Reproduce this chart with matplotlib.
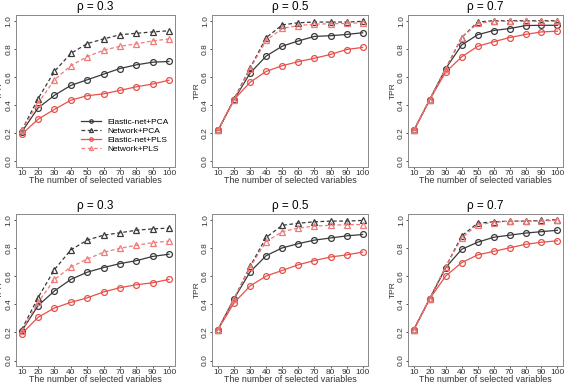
import numpy as np
import matplotlib
matplotlib.use("Agg")
import matplotlib.pyplot as plt

plt.rcParams['font.family'] = ['Liberation Sans', 'DejaVu Sans']

n_vars = [10, 20, 30, 40, 50, 60, 70, 80, 90, 100]
titles = ["\u03c1 = 0.3", "\u03c1 = 0.5", "\u03c1 = 0.7"]
labels = ["Elastic-net+PCA", "Network+PCA", "Elastic-net+PLS", "Network+PLS"]

# top row
top_en_pca = [
    [0.21, 0.38, 0.47, 0.54, 0.58, 0.62, 0.66, 0.686, 0.705, 0.71],
    [0.22, 0.44, 0.628, 0.749, 0.819, 0.856, 0.888, 0.893, 0.902, 0.914],
    [0.22, 0.44, 0.66, 0.827, 0.90, 0.93, 0.944, 0.965, 0.967, 0.967],
]
top_net_pca = [
    [0.22, 0.446, 0.64, 0.767, 0.837, 0.87, 0.90, 0.91, 0.92, 0.928],
    [0.22, 0.445, 0.665, 0.88, 0.97, 0.985, 0.99, 0.99, 0.99, 0.995],
    [0.22, 0.44, 0.66, 0.88, 0.99, 1.0, 1.0, 1.0, 1.0, 1.0],
]
top_en_pls = [
    [0.193, 0.30, 0.37, 0.435, 0.467, 0.48, 0.505, 0.53, 0.55, 0.577],
    [0.22, 0.44, 0.563, 0.64, 0.68, 0.709, 0.733, 0.76, 0.795, 0.81],
    [0.22, 0.44, 0.635, 0.743, 0.818, 0.85, 0.88, 0.902, 0.92, 0.925],
]
top_net_pls = [
    [0.22, 0.414, 0.58, 0.68, 0.744, 0.79, 0.818, 0.835, 0.856, 0.87],
    [0.22, 0.44, 0.66, 0.86, 0.945, 0.965, 0.975, 0.978, 0.98, 0.985],
    [0.22, 0.44, 0.66, 0.88, 0.98, 0.995, 0.995, 0.995, 0.995, 0.995],
]

# bottom row
bot_en_pca = [
    [0.21, 0.39, 0.494, 0.576, 0.627, 0.66, 0.688, 0.709, 0.739, 0.755],
    [0.22, 0.44, 0.63, 0.745, 0.80, 0.83, 0.855, 0.87, 0.885, 0.895],
    [0.22, 0.44, 0.66, 0.79, 0.84, 0.875, 0.89, 0.905, 0.915, 0.925],
]
bot_net_pca = [
    [0.22, 0.447, 0.646, 0.785, 0.855, 0.89, 0.907, 0.925, 0.935, 0.94],
    [0.22, 0.44, 0.67, 0.875, 0.96, 0.975, 0.985, 0.99, 0.99, 0.995],
    [0.22, 0.44, 0.665, 0.885, 0.975, 0.985, 0.99, 0.99, 0.995, 1.0],
]
bot_en_pls = [
    [0.19, 0.307, 0.373, 0.413, 0.445, 0.487, 0.517, 0.538, 0.552, 0.576],
    [0.22, 0.41, 0.53, 0.60, 0.64, 0.68, 0.71, 0.735, 0.75, 0.77],
    [0.22, 0.44, 0.60, 0.695, 0.75, 0.775, 0.80, 0.825, 0.84, 0.85],
]
bot_net_pls = [
    [0.21, 0.413, 0.576, 0.664, 0.72, 0.769, 0.797, 0.818, 0.837, 0.848],
    [0.22, 0.44, 0.665, 0.845, 0.915, 0.94, 0.955, 0.96, 0.965, 0.965],
    [0.22, 0.44, 0.665, 0.87, 0.965, 0.98, 0.99, 0.99, 0.99, 0.995],
]

black = "#3a3a3a"
red = "#e8504a"
pink = "#f07a78"
styles = [
    dict(color=black, ls="-", marker="o", ms=4.2),
    dict(color=black, ls="--", marker="^", ms=4.8),
    dict(color=red, ls="-", marker="o", ms=4.2),
    dict(color=pink, ls="--", marker="^", ms=4.8),
]

fig = plt.figure(figsize=(5.66, 3.85), dpi=100)
lefts = [0.028, 0.375, 0.721]
widths = [0.281, 0.276, 0.274]
rows = [(0.566, 0.395), (0.049, 0.395)]
data_rows = [
    (top_en_pca, top_net_pca, top_en_pls, top_net_pls),
    (bot_en_pca, bot_net_pca, bot_en_pls, bot_net_pls),
]

for r, (bottom, height) in enumerate(rows):
    for c in range(3):
        ax = fig.add_axes([lefts[c], bottom, widths[c], height])
        series = [s[c] for s in data_rows[r]]
        for k, (vals, st) in enumerate(zip(series, styles)):
            ax.plot(n_vars, vals, color=st["color"], lw=0.9,
                    marker=st["marker"], ms=st["ms"], mfc="none",
                    mec=st["color"], mew=0.9,
                    dashes=(3, 2) if st["ls"] == "--" else (None, None),
                    label=labels[k])
        ax.set_xlim(6.4, 103.6)
        ax.set_ylim(-0.04, 1.04)
        ax.set_xticks(n_vars)
        ax.set_yticks([0.0, 0.2, 0.4, 0.6, 0.8, 1.0])
        ax.set_yticklabels(["0.0", "0.2", "0.4", "0.6", "0.8", "1.0"],
                           rotation=90, va="center")
        ax.tick_params(labelsize=6, length=1.5, width=0.6, pad=0.8,
                       colors="#333333")
        for sp in ax.spines.values():
            sp.set_color("#888888")
            sp.set_linewidth(0.7)
        ax.set_title(titles[c], fontsize=8.5, pad=3.5)
        ax.set_xlabel("The number of selected variables", fontsize=6.4,
                      labelpad=-1.2, color="#333333")
        ax.set_ylabel("TPR", fontsize=6, labelpad=1, color="#333333")
        if r == 0 and c == 0:
            ax.legend(loc="lower right", bbox_to_anchor=(0.98, 0.07),
                      frameon=False, fontsize=6, handlelength=2.4,
                      markerscale=0.6, labelspacing=0.15,
                      borderaxespad=0, handletextpad=0.7)

fig.savefig("out.png", dpi=100)
